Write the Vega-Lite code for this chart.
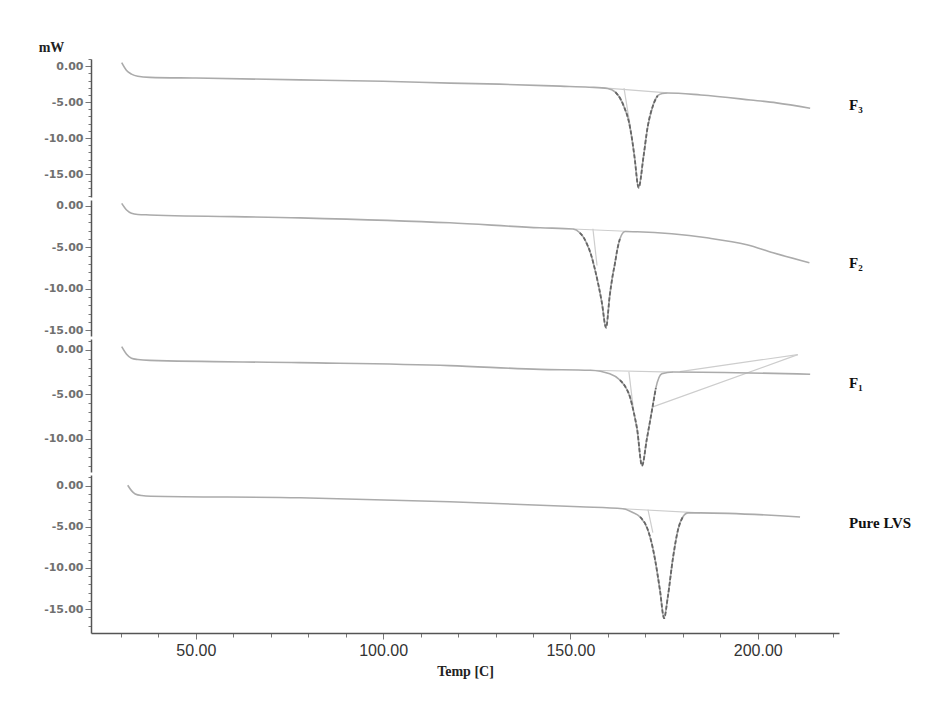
{
  "$schema": "https://vega.github.io/schema/vega-lite/v6.json",
  "background": "white",
  "padding": {"left": 29, "top": 40, "right": 5, "bottom": 5},
  "spacing": 3,
  "bounds": "flush",
  "config": {
    "view": {"stroke": null},
    "axis": {
      "grid": false,
      "domainColor": "#555555",
      "domainWidth": 1.5,
      "tickColor": "#777777",
      "labelFlush": false,
      "labelOverlap": false
    },
    "axisY": {
      "labelFont": "DejaVu Sans",
      "labelFontWeight": "bold",
      "labelFontSize": 11,
      "labelColor": "#707070",
      "labelPadding": 2,
      "minExtent": 62,
      "maxExtent": 62,
      "labelExpr": "datum.value % 5 == 0 ? (datum.value == 0 ? '0.00' : '-' + abs(datum.value) + '.00') : ''",
      "tickSize": {"condition": {"test": "datum.value % 5 == 0", "value": 6}, "value": 3}
    }
  },
  "datasets": {
    "dsc": [
      {"p": "F3", "s": "main", "T": 30.2, "v": 0.5},
      {"p": "F3", "s": "main", "T": 31.5, "v": -0.6},
      {"p": "F3", "s": "main", "T": 32.8, "v": -1.1},
      {"p": "F3", "s": "main", "T": 34.5, "v": -1.4},
      {"p": "F3", "s": "main", "T": 37.7, "v": -1.55},
      {"p": "F3", "s": "main", "T": 50, "v": -1.65},
      {"p": "F3", "s": "main", "T": 77.8, "v": -1.9},
      {"p": "F3", "s": "main", "T": 100, "v": -2.1},
      {"p": "F3", "s": "main", "T": 117.9, "v": -2.35},
      {"p": "F3", "s": "main", "T": 131, "v": -2.5},
      {"p": "F3", "s": "main", "T": 147.3, "v": -2.78},
      {"p": "F3", "s": "main", "T": 155, "v": -2.92},
      {"p": "F3", "s": "main", "T": 159.9, "v": -3.1},
      {"p": "F3", "s": "main", "T": 162.0, "v": -3.6},
      {"p": "F3", "s": "main", "T": 163.4, "v": -4.6},
      {"p": "F3", "s": "main", "T": 164.5, "v": -5.9},
      {"p": "F3", "s": "main", "T": 165.5, "v": -7.5},
      {"p": "F3", "s": "main", "T": 166.4, "v": -10.0},
      {"p": "F3", "s": "main", "T": 167.1, "v": -12.6},
      {"p": "F3", "s": "main", "T": 168.2, "v": -16.9},
      {"p": "F3", "s": "main", "T": 169.5, "v": -12.6},
      {"p": "F3", "s": "main", "T": 170.6, "v": -8.5},
      {"p": "F3", "s": "main", "T": 171.9, "v": -5.7},
      {"p": "F3", "s": "main", "T": 173.3, "v": -4.1},
      {"p": "F3", "s": "main", "T": 174.5, "v": -3.8},
      {"p": "F3", "s": "main", "T": 175.9, "v": -3.72},
      {"p": "F3", "s": "main", "T": 184.8, "v": -4.0},
      {"p": "F3", "s": "main", "T": 198.1, "v": -4.7},
      {"p": "F3", "s": "main", "T": 205, "v": -5.1},
      {"p": "F3", "s": "main", "T": 214.0, "v": -5.85},
      {"p": "F3", "s": "base", "T": 158.0, "v": -2.99},
      {"p": "F3", "s": "base", "T": 175.9, "v": -3.72},
      {"p": "F3", "s": "onset", "T": 164.3, "v": -3.05},
      {"p": "F3", "s": "onset", "T": 166.0, "v": -8.5},
      {"p": "F3", "s": "label", "label": "F₃", "T": 224.4, "v": -5.4},

      {"p": "F2", "s": "main", "T": 30.2, "v": 0.3},
      {"p": "F2", "s": "main", "T": 31.5, "v": -0.5},
      {"p": "F2", "s": "main", "T": 32.8, "v": -0.9},
      {"p": "F2", "s": "main", "T": 34.5, "v": -1.05},
      {"p": "F2", "s": "main", "T": 37.7, "v": -1.1},
      {"p": "F2", "s": "main", "T": 77.8, "v": -1.45},
      {"p": "F2", "s": "main", "T": 117.8, "v": -2.05},
      {"p": "F2", "s": "main", "T": 141.9, "v": -2.65},
      {"p": "F2", "s": "main", "T": 150.7, "v": -2.8},
      {"p": "F2", "s": "main", "T": 152.5, "v": -3.25},
      {"p": "F2", "s": "main", "T": 153.5, "v": -3.8},
      {"p": "F2", "s": "main", "T": 154.4, "v": -4.6},
      {"p": "F2", "s": "main", "T": 155.5, "v": -5.9},
      {"p": "F2", "s": "main", "T": 156.5, "v": -7.6},
      {"p": "F2", "s": "main", "T": 157.5, "v": -9.6},
      {"p": "F2", "s": "main", "T": 158.4, "v": -11.7},
      {"p": "F2", "s": "main", "T": 159.5, "v": -14.7},
      {"p": "F2", "s": "main", "T": 160.5, "v": -10.8},
      {"p": "F2", "s": "main", "T": 161.2, "v": -8.6},
      {"p": "F2", "s": "main", "T": 161.9, "v": -6.9},
      {"p": "F2", "s": "main", "T": 162.5, "v": -5.3},
      {"p": "F2", "s": "main", "T": 163.2, "v": -4.0},
      {"p": "F2", "s": "main", "T": 164.6, "v": -3.1},
      {"p": "F2", "s": "main", "T": 167.8, "v": -3.13},
      {"p": "F2", "s": "main", "T": 186.4, "v": -3.86},
      {"p": "F2", "s": "main", "T": 197.1, "v": -4.7},
      {"p": "F2", "s": "main", "T": 204.1, "v": -5.66},
      {"p": "F2", "s": "main", "T": 213.8, "v": -6.87},
      {"p": "F2", "s": "base", "T": 150.7, "v": -2.8},
      {"p": "F2", "s": "base", "T": 167.8, "v": -3.13},
      {"p": "F2", "s": "onset", "T": 156.0, "v": -2.77},
      {"p": "F2", "s": "onset", "T": 157.1, "v": -7.2},
      {"p": "F2", "s": "label", "label": "F₂", "T": 224.4, "v": -6.9},

      {"p": "F1", "s": "main", "T": 30.2, "v": 0.35},
      {"p": "F1", "s": "main", "T": 31.5, "v": -0.5},
      {"p": "F1", "s": "main", "T": 32.8, "v": -0.95},
      {"p": "F1", "s": "main", "T": 34.5, "v": -1.1},
      {"p": "F1", "s": "main", "T": 37.7, "v": -1.2},
      {"p": "F1", "s": "main", "T": 77.8, "v": -1.45},
      {"p": "F1", "s": "main", "T": 117.8, "v": -1.78},
      {"p": "F1", "s": "main", "T": 141.9, "v": -2.2},
      {"p": "F1", "s": "main", "T": 155.2, "v": -2.3},
      {"p": "F1", "s": "main", "T": 160.5, "v": -2.7},
      {"p": "F1", "s": "main", "T": 163.2, "v": -3.4},
      {"p": "F1", "s": "main", "T": 165.0, "v": -4.4},
      {"p": "F1", "s": "main", "T": 165.9, "v": -5.3},
      {"p": "F1", "s": "main", "T": 166.9, "v": -7.0},
      {"p": "F1", "s": "main", "T": 167.8, "v": -8.9},
      {"p": "F1", "s": "main", "T": 169.1, "v": -13.0},
      {"p": "F1", "s": "main", "T": 170.4, "v": -10.0},
      {"p": "F1", "s": "main", "T": 171.8, "v": -6.7},
      {"p": "F1", "s": "main", "T": 172.8, "v": -4.3},
      {"p": "F1", "s": "main", "T": 174.4, "v": -2.7},
      {"p": "F1", "s": "main", "T": 177.4, "v": -2.5},
      {"p": "F1", "s": "main", "T": 214.0, "v": -2.75},
      {"p": "F1", "s": "base", "T": 155.2, "v": -2.3},
      {"p": "F1", "s": "base", "T": 177.4, "v": -2.5},
      {"p": "F1", "s": "onset", "T": 165.6, "v": -2.45},
      {"p": "F1", "s": "onset", "T": 166.7, "v": -6.3},
      {"p": "F1", "s": "aux1", "T": 172.0, "v": -6.4},
      {"p": "F1", "s": "aux1", "T": 210.7, "v": -0.55},
      {"p": "F1", "s": "aux2", "T": 179.2, "v": -2.45},
      {"p": "F1", "s": "aux2", "T": 210.7, "v": -0.55},
      {"p": "F1", "s": "label", "label": "F₁", "T": 224.4, "v": -3.7},

      {"p": "LVS", "s": "main", "T": 31.8, "v": 0.05},
      {"p": "LVS", "s": "main", "T": 32.8, "v": -0.6},
      {"p": "LVS", "s": "main", "T": 33.8, "v": -1.0},
      {"p": "LVS", "s": "main", "T": 35.5, "v": -1.2},
      {"p": "LVS", "s": "main", "T": 38, "v": -1.28},
      {"p": "LVS", "s": "main", "T": 77.8, "v": -1.46},
      {"p": "LVS", "s": "main", "T": 117.8, "v": -1.95},
      {"p": "LVS", "s": "main", "T": 152.5, "v": -2.56},
      {"p": "LVS", "s": "main", "T": 164.0, "v": -2.8},
      {"p": "LVS", "s": "main", "T": 166.4, "v": -3.2},
      {"p": "LVS", "s": "main", "T": 168.6, "v": -3.8},
      {"p": "LVS", "s": "main", "T": 170.7, "v": -5.4},
      {"p": "LVS", "s": "main", "T": 171.7, "v": -7.0},
      {"p": "LVS", "s": "main", "T": 172.6, "v": -9.0},
      {"p": "LVS", "s": "main", "T": 173.9, "v": -12.7},
      {"p": "LVS", "s": "main", "T": 175.0, "v": -16.1},
      {"p": "LVS", "s": "main", "T": 176.0, "v": -13.5},
      {"p": "LVS", "s": "main", "T": 177.4, "v": -8.7},
      {"p": "LVS", "s": "main", "T": 178.7, "v": -5.4},
      {"p": "LVS", "s": "main", "T": 180.0, "v": -3.8},
      {"p": "LVS", "s": "main", "T": 181.4, "v": -3.3},
      {"p": "LVS", "s": "main", "T": 184.6, "v": -3.3},
      {"p": "LVS", "s": "main", "T": 211.3, "v": -3.8},
      {"p": "LVS", "s": "base", "T": 164.0, "v": -2.8},
      {"p": "LVS", "s": "base", "T": 184.6, "v": -3.3},
      {"p": "LVS", "s": "onset", "T": 170.7, "v": -2.9},
      {"p": "LVS", "s": "onset", "T": 172.0, "v": -5.7},
      {"p": "LVS", "s": "label", "label": "Pure LVS", "T": 224.4, "v": -4.5}
    ]
  },
  "data": {"name": "dsc"},
  "vconcat": [
    {
      "width": 748, "height": 138,
      "transform": [{"filter": "datum.p == 'F3'"}],
      "encoding": {
        "x": {"field": "T", "type": "quantitative", "scale": {"domain": [22, 221.7], "nice": false, "zero": false}, "axis": null},
        "y": {"field": "v", "type": "quantitative", "scale": {"domain": [-18.2, 1.0], "nice": false, "zero": false},
          "axis": {"values": [-18,-17,-16,-15,-14,-13,-12,-11,-10,-9,-8,-7,-6,-5,-4,-3,-2,-1,0,1],
            "title": "mW", "titleAngle": 0, "titleX": -40, "titleY": -8, "titleAlign": "center", "titleBaseline": "alphabetic",
            "titleFont": "Liberation Serif", "titleFontWeight": "bold", "titleFontSize": 14, "titleColor": "#222222"}}
      },
      "layer": [
        {"transform": [{"filter": "datum.s != 'main' && datum.s != 'label'"}], "mark": {"type": "line", "color": "#cdcdcd", "strokeWidth": 1.2}, "encoding": {"detail": {"field": "s"}}},
        {"transform": [{"filter": "datum.s == 'main'"}], "mark": {"type": "line", "color": "#ababab", "strokeWidth": 1.6, "interpolate": "monotone"}, "encoding": {}},
        {"transform": [{"filter": "datum.s == 'main' && datum.T >= 162 && datum.T <= 174"}], "mark": {"type": "line", "color": "#666666", "strokeWidth": 1.8, "strokeDash": [4, 2], "interpolate": "monotone"}, "encoding": {}},
        {"transform": [{"filter": "datum.s == 'label'"}], "mark": {"type": "text", "align": "left", "baseline": "middle", "font": "Liberation Serif", "fontWeight": "bold", "fontSize": 15, "color": "#111111"}, "encoding": {"text": {"field": "label"}}}
      ]
    },
    {
      "width": 748, "height": 136,
      "transform": [{"filter": "datum.p == 'F2'"}],
      "encoding": {
        "x": {"field": "T", "type": "quantitative", "scale": {"domain": [22, 221.7], "nice": false, "zero": false}, "axis": null},
        "y": {"field": "v", "type": "quantitative", "scale": {"domain": [-15.7, 0.7], "nice": false, "zero": false},
          "axis": {"values": [-15,-14,-13,-12,-11,-10,-9,-8,-7,-6,-5,-4,-3,-2,-1,0], "title": null}}
      },
      "layer": [
        {"transform": [{"filter": "datum.s != 'main' && datum.s != 'label'"}], "mark": {"type": "line", "color": "#cdcdcd", "strokeWidth": 1.2}, "encoding": {"detail": {"field": "s"}}},
        {"transform": [{"filter": "datum.s == 'main'"}], "mark": {"type": "line", "color": "#ababab", "strokeWidth": 1.6, "interpolate": "monotone"}, "encoding": {}},
        {"transform": [{"filter": "datum.s == 'main' && datum.T >= 152 && datum.T <= 164"}], "mark": {"type": "line", "color": "#666666", "strokeWidth": 1.8, "strokeDash": [4, 2], "interpolate": "monotone"}, "encoding": {}},
        {"transform": [{"filter": "datum.s == 'label'"}], "mark": {"type": "text", "align": "left", "baseline": "middle", "font": "Liberation Serif", "fontWeight": "bold", "fontSize": 15, "color": "#111111"}, "encoding": {"text": {"field": "label"}}}
      ]
    },
    {
      "width": 748, "height": 133,
      "transform": [{"filter": "datum.p == 'F1'"}],
      "encoding": {
        "x": {"field": "T", "type": "quantitative", "scale": {"domain": [22, 221.7], "nice": false, "zero": false}, "axis": null},
        "y": {"field": "v", "type": "quantitative", "scale": {"domain": [-13.7, 1.2], "nice": false, "zero": false},
          "axis": {"values": [-13,-12,-11,-10,-9,-8,-7,-6,-5,-4,-3,-2,-1,0,1], "title": null}}
      },
      "layer": [
        {"transform": [{"filter": "datum.s != 'main' && datum.s != 'label'"}], "mark": {"type": "line", "color": "#cdcdcd", "strokeWidth": 1.2}, "encoding": {"detail": {"field": "s"}}},
        {"transform": [{"filter": "datum.s == 'main'"}], "mark": {"type": "line", "color": "#ababab", "strokeWidth": 1.6, "interpolate": "monotone"}, "encoding": {}},
        {"transform": [{"filter": "datum.s == 'main' && datum.T >= 163 && datum.T <= 174"}], "mark": {"type": "line", "color": "#666666", "strokeWidth": 1.8, "strokeDash": [4, 2], "interpolate": "monotone"}, "encoding": {}},
        {"transform": [{"filter": "datum.s == 'label'"}], "mark": {"type": "text", "align": "left", "baseline": "middle", "font": "Liberation Serif", "fontWeight": "bold", "fontSize": 15, "color": "#111111"}, "encoding": {"text": {"field": "label"}}}
      ]
    },
    {
      "width": 748, "height": 158,
      "transform": [{"filter": "datum.p == 'LVS'"}],
      "encoding": {
        "x": {"field": "T", "type": "quantitative", "scale": {"domain": [22, 221.7], "nice": false, "zero": false},
          "axis": {"values": [30,40,50,60,70,80,90,100,110,120,130,140,150,160,170,180,190,200,210,220],
            "labelExpr": "datum.value % 50 == 0 ? format(datum.value, '.2f') : ''",
            "tickSize": {"condition": {"test": "datum.value % 50 == 0", "value": 6}, "value": 4},
            "labelFont": "Liberation Sans", "labelFontSize": 16, "labelColor": "#333333", "labelPadding": 3,
            "title": "Temp [C]", "titleFont": "Liberation Serif", "titleFontWeight": "bold", "titleFontSize": 14, "titleColor": "#222222", "titlePadding": 6}},
        "y": {"field": "v", "type": "quantitative", "scale": {"domain": [-17.9, 1.3], "nice": false, "zero": false},
          "axis": {"values": [-17,-16,-15,-14,-13,-12,-11,-10,-9,-8,-7,-6,-5,-4,-3,-2,-1,0,1], "title": null}}
      },
      "layer": [
        {"transform": [{"filter": "datum.s != 'main' && datum.s != 'label'"}], "mark": {"type": "line", "color": "#cdcdcd", "strokeWidth": 1.2}, "encoding": {"detail": {"field": "s"}}},
        {"transform": [{"filter": "datum.s == 'main'"}], "mark": {"type": "line", "color": "#ababab", "strokeWidth": 1.6, "interpolate": "monotone"}, "encoding": {}},
        {"transform": [{"filter": "datum.s == 'main' && datum.T >= 168 && datum.T <= 181"}], "mark": {"type": "line", "color": "#666666", "strokeWidth": 1.8, "strokeDash": [4, 2], "interpolate": "monotone"}, "encoding": {}},
        {"transform": [{"filter": "datum.s == 'label'"}], "mark": {"type": "text", "align": "left", "baseline": "middle", "font": "Liberation Serif", "fontWeight": "bold", "fontSize": 15, "color": "#111111"}, "encoding": {"text": {"field": "label"}}}
      ]
    }
  ]
}
